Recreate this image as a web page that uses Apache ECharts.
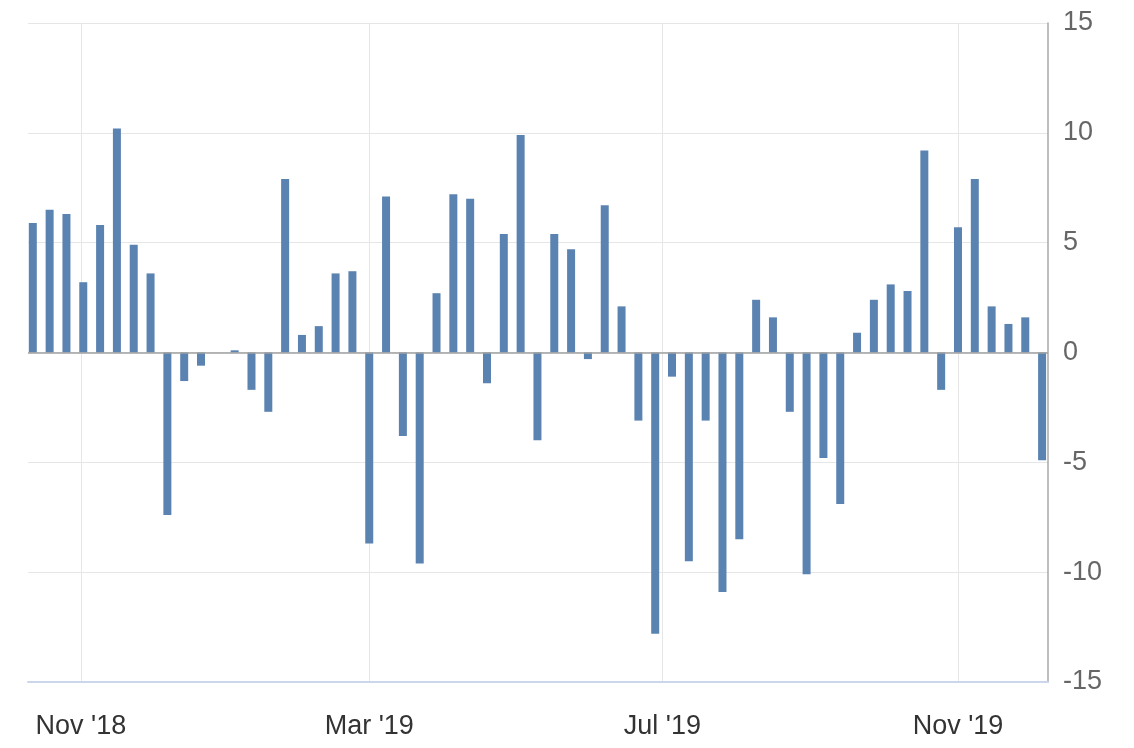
<!DOCTYPE html>
<html>
<head>
<meta charset="utf-8">
<script src="https://cdn.jsdelivr.net/npm/echarts@6/dist/echarts.min.js"></script>
<style>
  html, body { margin: 0; padding: 0; background: #ffffff; }
  #chart { width: 1134px; height: 748px; }
</style>
</head>
<body>
<div id="chart"></div>
<script>
// Weekly dates (Fridays)
const weekDates = [
  '2018-10-12','2018-10-19','2018-10-26','2018-11-02','2018-11-09','2018-11-16','2018-11-23','2018-11-30',
  '2018-12-07','2018-12-14','2018-12-21','2018-12-28','2019-01-04','2019-01-11','2019-01-18','2019-01-25',
  '2019-02-01','2019-02-08','2019-02-15','2019-02-22','2019-03-01','2019-03-08','2019-03-15','2019-03-22',
  '2019-03-29','2019-04-05','2019-04-12','2019-04-19','2019-04-26','2019-05-03','2019-05-10','2019-05-17',
  '2019-05-24','2019-05-31','2019-06-07','2019-06-14','2019-06-21','2019-06-28','2019-07-05','2019-07-12',
  '2019-07-19','2019-07-26','2019-08-02','2019-08-09','2019-08-16','2019-08-23','2019-08-30','2019-09-06',
  '2019-09-13','2019-09-20','2019-09-27','2019-10-04','2019-10-11','2019-10-18','2019-10-25','2019-11-01',
  '2019-11-08','2019-11-15','2019-11-22','2019-11-29','2019-12-06'
];

// Weekly change values
const weeklyChange = [
  5.9, 6.5, 6.3, 3.2, 5.8, 10.2, 4.9, 3.6,
  -7.4, -1.3, -0.6, null, 0.1, -1.7, -2.7, 7.9,
  0.8, 1.2, 3.6, 3.7, -8.7, 7.1, -3.8, -9.6,
  2.7, 7.2, 7.0, -1.4, 5.4, 9.9, -4.0, 5.4,
  4.7, -0.3, 6.7, 2.1, -3.1, -12.8, -1.1, -9.5,
  -3.1, -10.9, -8.5, 2.4, 1.6, -2.7, -10.1, -4.8,
  -6.9, 0.9, 2.4, 3.1, 2.8, 9.2, -1.7, 5.7,
  7.9, 2.1, 1.3, 1.6, -4.9
];

// X tick dates and labels
const xTickDates = ['2018-11-01', '2019-03-01', '2019-07-01', '2019-11-01'];
const xTickLabels = ["Nov '18", "Mar '19", "Jul '19", "Nov '19"];

// Y axis ticks
const yMin = -15, yMax = 15, yStep = 5;

function ts(s) {
  const p = s.split('-').map(Number);
  return new Date(p[0], p[1] - 1, p[2]).getTime();
}

const xTickValues = xTickDates.map(ts);
const xMin = new Date(2018, 9, 10, 0).getTime();
const xMax = new Date(2019, 11, 8, 11).getTime();

const chart = echarts.init(document.getElementById('chart'), null, { renderer: 'canvas' });

const option = {
  backgroundColor: '#ffffff',
  animation: false,
  grid: { left: 28, right: 86, top: 23, bottom: 66, containLabel: false },
  xAxis: {
    type: 'value',
    min: xMin,
    max: xMax,
    scale: true,
    axisLine: { show: true, onZero: false, lineStyle: { color: '#ccd6eb', width: 2 } },
    axisTick: { show: false, customValues: xTickValues },
    splitLine: { show: true, lineStyle: { color: '#e6e6e6', width: 1 } },
    axisLabel: {
      customValues: xTickValues,
      margin: 31,
      color: '#333333',
      fontSize: 27,
      fontFamily: 'Liberation Sans, Arial, sans-serif',
      formatter: function (val) {
        const i = xTickValues.indexOf(val);
        return i >= 0 ? xTickLabels[i] : '';
      }
    }
  },
  yAxis: {
    type: 'value',
    position: 'right',
    min: yMin,
    max: yMax,
    interval: yStep,
    axisLine: { show: true, lineStyle: { color: '#a8a8a8', width: 1.5 } },
    axisTick: { show: false },
    splitLine: { show: true, lineStyle: { color: '#e6e6e6', width: 1 } },
    axisLabel: {
      margin: 15,
      color: '#666666',
      fontSize: 27,
      fontFamily: 'Liberation Sans, Arial, sans-serif'
    }
  },
  series: [{
    type: 'bar',
    barWidth: 8,
    itemStyle: { color: '#5b83b1' },
    data: weekDates.map((d, i) => [ts(d), weeklyChange[i]]),
    markLine: {
      silent: true,
      symbol: 'none',
      label: { show: false },
      lineStyle: { color: '#a0a0a0', width: 1.5, type: 'solid' },
      data: [{ yAxis: 0 }]
    }
  }]
};

chart.setOption(option);
</script>
</body>
</html>
